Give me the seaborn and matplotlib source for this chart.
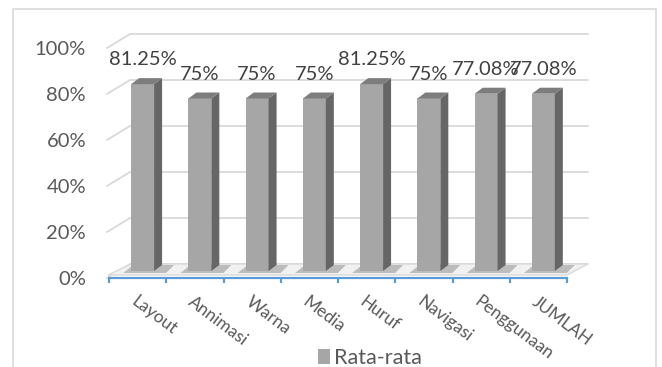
import matplotlib
matplotlib.use("Agg")
import matplotlib.pyplot as plt
from matplotlib.patches import Polygon, Rectangle
from matplotlib.lines import Line2D
from matplotlib.transforms import IdentityTransform, offset_copy
import seaborn as sns

categories = ["Layout", "Annimasi", "Warna", "Media", "Huruf", "Navigasi", "Penggunaan", "JUMLAH"]
values = [81.25, 75, 75, 75, 81.25, 75, 77.08, 77.08]
y_ticks = [0, 20, 40, 60, 80, 100]
y_tick_labels = ["0%", "20%", "40%", "60%", "80%", "100%"]
series_name = "Rata-rata"

W, H = 662, 367
sns.set_style("white")
plt.rcParams["font.family"] = ["Lato", "DejaVu Sans"]
TXT = "#595959"
GRID = "#d9d9d9"
BLUE = "#5b9bd5"
FRONT = "#a6a6a6"
SIDE = "#666666"
TOP = "#7d7d7d"

fig = plt.figure(figsize=(W / 100, H / 100), dpi=100)
ax = fig.add_axes([109 / W, (H - 278) / H, 458 / W, 230 / H])

sns.barplot(x=categories, y=values, color=FRONT, saturation=1, width=0.4,
            ax=ax, label=series_name, linewidth=0, zorder=5)
ax.set_xlim(-0.5, len(categories) - 0.5)
ax.set_ylim(0, 100)

# depth vectors (pixels)
WX, WY = 21, 14      # back wall offset
BX, BY = 8, 6        # bar depth

tdata = ax.transData
def px(x, y):
    return tdata.transform((x, y))

# back-wall gridlines
for t in y_ticks:
    f = px(-0.5, t)
    f = (f[0] - 2, f[1])
    e = px(len(categories) - 0.5, t)
    b0 = (f[0] + WX + 2, f[1] + WY)
    b1 = (e[0] + WX, e[1] + WY)
    ax.add_line(Line2D([f[0], b0[0], b1[0]], [f[1], b0[1], b1[1]],
                       transform=IdentityTransform(), color=GRID, lw=1.3,
                       zorder=1, clip_on=False))

# floor
fl = px(-0.5, 0); fr = px(len(categories) - 0.5, 0)
floor = [(fl[0] - 1, fl[1] + 3), (fr[0], fr[1] + 3),
         (fr[0] + WX, fr[1] + WY), (fl[0] + WX + 1, fl[1] + WY)]
ax.add_patch(Polygon(floor, closed=True, transform=IdentityTransform(),
                     facecolor="#f1f1f1", edgecolor=GRID, lw=1.0, zorder=2,
                     clip_on=False))

bars = list(ax.patches)[:len(categories)]
shift = offset_copy(ax.transData, fig=fig, x=5, y=7, units="dots")
for p, v in zip(bars, values):
    p.set_transform(shift)
    p.set_zorder(5)
    p.set_clip_on(False)
    x0, y0, w, h = p.get_x(), p.get_y(), p.get_width(), p.get_height()
    bl = shift.transform((x0, y0))
    tr = shift.transform((x0 + w, y0 + h))
    # shadow on floor
    shadow = [(bl[0] - 8, bl[1] - 2), (tr[0] + 12, bl[1] - 2),
              (tr[0] + 20, bl[1] + 6), (bl[0] + 2, bl[1] + 6)]
    ax.add_patch(Polygon(shadow, closed=True, transform=IdentityTransform(),
                         facecolor="#5a5a5a", alpha=0.35, lw=0, zorder=3,
                         clip_on=False))
    side = [(tr[0], bl[1]), (tr[0], tr[1]), (tr[0] + BX, tr[1] + BY), (tr[0] + BX, bl[1] + BY)]
    ax.add_patch(Polygon(side, closed=True, transform=IdentityTransform(),
                         facecolor=SIDE, lw=0, zorder=5, clip_on=False))
    top = [(bl[0], tr[1]), (tr[0], tr[1]), (tr[0] + BX, tr[1] + BY), (bl[0] + BX, tr[1] + BY)]
    ax.add_patch(Polygon(top, closed=True, transform=IdentityTransform(),
                         facecolor=TOP, lw=0, zorder=5, clip_on=False))
    cx = (bl[0] + tr[0]) / 2
    ax.text(cx, tr[1] + 19, f"{v:g}%", transform=IdentityTransform(),
            ha="center", va="baseline", fontsize=14.5, color="#404040", zorder=6)

ax.set_xlim(-0.5, len(categories) - 0.5)
ax.set_ylim(0, 100)

# axes styling
for s in ["top", "right", "left"]:
    ax.spines[s].set_visible(False)
ax.spines["bottom"].set_color(BLUE)
ax.spines["bottom"].set_linewidth(1.6)
ax.spines["bottom"].set_zorder(7)
ax.set_yticks(y_ticks)
ax.set_yticklabels(y_tick_labels)
ax.tick_params(axis="y", left=True, length=0, pad=16.5, labelsize=14.5, labelcolor=TXT)
ax.set_xticks(range(len(categories)))
ax.set_xticklabels(categories, rotation=-37, ha="left", va="top",
                   rotation_mode="anchor")
ax.tick_params(axis="x", which="major", bottom=True, length=0, pad=11,
               labelsize=12.5, labelcolor=TXT)
ax.set_xticks([i - 0.5 for i in range(len(categories) + 1)], minor=True)
ax.tick_params(axis="x", which="minor", bottom=True, length=3.5, width=1.6,
               color=BLUE, direction="out")
ax.set_xlabel("")
ax.set_ylabel("")
ax.grid(False)
ax.patch.set_alpha(0)

# legend
h, l = ax.get_legend_handles_labels()
if ax.get_legend() is not None:
    ax.get_legend().remove()
fig.legend(h[:1], [series_name], loc="center left",
           bbox_to_anchor=(318 / W, 1 - 358 / H), frameon=False,
           fontsize=15.5, labelcolor=TXT, handlelength=0.55, handleheight=0.65,
           handletextpad=0.2, borderpad=0, borderaxespad=0)

# chart border
fig.add_artist(Rectangle((13 / W, -0.1), (656 - 13) / W, 1 - 9 / H + 0.1,
                         transform=fig.transFigure, fill=False,
                         edgecolor=GRID, lw=1.2))

fig.savefig("out.png", dpi=100)
